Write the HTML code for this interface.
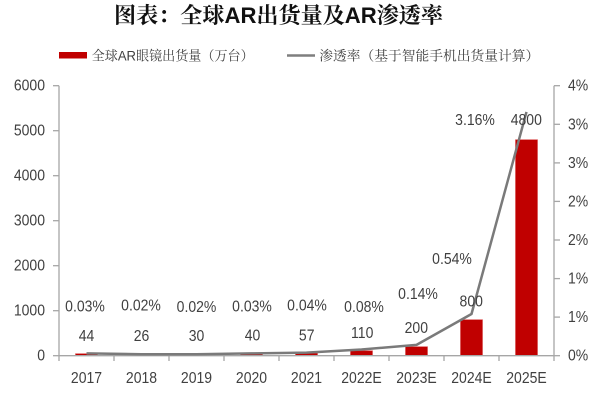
<!DOCTYPE html>
<html>
<head>
<meta charset="utf-8">
<style>
  html,body{margin:0;padding:0;background:#fff;}
  svg{display:block;}
  .t{font-family:"Liberation Sans","Noto Sans CJK SC",sans-serif;font-size:14px;fill:#404040;}
</style>
</head>
<body>
<svg width="600" height="400" viewBox="0 0 600 400" xmlns="http://www.w3.org/2000/svg">
  <rect width="600" height="400" fill="#fff"/>
  <!-- Title -->
  <text x="114" y="23" font-family="'Liberation Sans','Noto Serif CJK SC',serif" font-weight="700" font-size="22" fill="#111" textLength="329" lengthAdjust="spacingAndGlyphs">图表：全球AR出货量及AR渗透率</text>

  <!-- Legend -->
  <rect x="59" y="52" width="28" height="6.5" fill="#C00000"/>
  <text x="91.7" y="60.5" font-family="'Liberation Sans','Noto Serif CJK SC',serif" font-size="13.5" fill="#404040" textLength="162" lengthAdjust="spacingAndGlyphs">全球AR眼镜出货量（万台）</text>
  <line x1="287" y1="55.5" x2="315" y2="55.5" stroke="#7F7F7F" stroke-width="2.5"/>
  <text x="319.3" y="60.5" font-family="'Liberation Sans','Noto Serif CJK SC',serif" font-size="13.5" fill="#404040" textLength="220" lengthAdjust="spacingAndGlyphs">渗透率（基于智能手机出货量计算）</text>

  <!-- Bars -->
  <g fill="#C00000" stroke="#D84A4A" stroke-width="0.6">
    <rect x="75.5" y="353.7" width="22" height="2"/>
    <rect x="130.5" y="354.5" width="22" height="1.2"/>
    <rect x="185.5" y="354.35" width="22" height="1.35"/>
    <rect x="240.5" y="353.9" width="22" height="1.8"/>
    <rect x="295.5" y="353.1" width="22" height="2.6"/>
    <rect x="350.5" y="350.75" width="22" height="4.95"/>
    <rect x="405.5" y="346.7" width="22" height="9"/>
    <rect x="460.5" y="319.7" width="22" height="36"/>
    <rect x="515.5" y="139.7" width="22" height="216"/>
  </g>

  <!-- Axes -->
  <g stroke="#A6A6A6" stroke-width="1.3" fill="none">
    <line x1="59" y1="85.7" x2="59" y2="361"/>
    <line x1="554" y1="85.7" x2="554" y2="361"/>
    <line x1="59" y1="355.7" x2="554" y2="355.7"/>
    <line x1="53" y1="85.7" x2="59" y2="85.7"/>
    <line x1="53" y1="130.7" x2="59" y2="130.7"/>
    <line x1="53" y1="175.7" x2="59" y2="175.7"/>
    <line x1="53" y1="220.7" x2="59" y2="220.7"/>
    <line x1="53" y1="265.7" x2="59" y2="265.7"/>
    <line x1="53" y1="310.7" x2="59" y2="310.7"/>
    <line x1="53" y1="355.7" x2="59" y2="355.7"/>
    <line x1="554" y1="85.7" x2="560" y2="85.7"/>
    <line x1="554" y1="124.3" x2="560" y2="124.3"/>
    <line x1="554" y1="162.9" x2="560" y2="162.9"/>
    <line x1="554" y1="201.4" x2="560" y2="201.4"/>
    <line x1="554" y1="240" x2="560" y2="240"/>
    <line x1="554" y1="278.6" x2="560" y2="278.6"/>
    <line x1="554" y1="317.1" x2="560" y2="317.1"/>
    <line x1="554" y1="355.7" x2="560" y2="355.7"/>
    <line x1="114" y1="355.7" x2="114" y2="361"/>
    <line x1="169" y1="355.7" x2="169" y2="361"/>
    <line x1="224" y1="355.7" x2="224" y2="361"/>
    <line x1="279" y1="355.7" x2="279" y2="361"/>
    <line x1="334" y1="355.7" x2="334" y2="361"/>
    <line x1="389" y1="355.7" x2="389" y2="361"/>
    <line x1="444" y1="355.7" x2="444" y2="361"/>
    <line x1="499" y1="355.7" x2="499" y2="361"/>
  </g>

  <!-- Line series -->
  <polyline points="86.5,353.4 141.5,354.2 196.5,354.2 251.5,353.4 306.5,352.6 361.5,349.5 416.5,344.9 471.5,314.0 526.5,111.9" fill="none" stroke="#7A7A7A" stroke-width="2.5" stroke-linejoin="round"/>

  <!-- Left axis labels -->
  <g class="t" text-anchor="end">
    <text transform="translate(45,90.7) scale(1,1.12)">6000</text>
    <text transform="translate(45,135.7) scale(1,1.12)">5000</text>
    <text transform="translate(45,180.7) scale(1,1.12)">4000</text>
    <text transform="translate(45,225.7) scale(1,1.12)">3000</text>
    <text transform="translate(45,270.7) scale(1,1.12)">2000</text>
    <text transform="translate(45,315.7) scale(1,1.12)">1000</text>
    <text transform="translate(45,360.7) scale(1,1.12)">0</text>
  </g>

  <!-- Right axis labels -->
  <g class="t">
    <text transform="translate(568,90.7) scale(1,1.12)">4%</text>
    <text transform="translate(568,129.3) scale(1,1.12)">3%</text>
    <text transform="translate(568,167.9) scale(1,1.12)">3%</text>
    <text transform="translate(568,206.4) scale(1,1.12)">2%</text>
    <text transform="translate(568,245) scale(1,1.12)">2%</text>
    <text transform="translate(568,283.6) scale(1,1.12)">1%</text>
    <text transform="translate(568,322.1) scale(1,1.12)">1%</text>
    <text transform="translate(568,360.7) scale(1,1.12)">0%</text>
  </g>

  <!-- X labels -->
  <g class="t" text-anchor="middle">
    <text transform="translate(86.5,383) scale(1,1.12)">2017</text>
    <text transform="translate(141.5,383) scale(1,1.12)">2018</text>
    <text transform="translate(196.5,383) scale(1,1.12)">2019</text>
    <text transform="translate(251.5,383) scale(1,1.12)">2020</text>
    <text transform="translate(306.5,383) scale(1,1.12)">2021</text>
    <text transform="translate(361.5,383) scale(1,1.12)">2022E</text>
    <text transform="translate(416.5,383) scale(1,1.12)">2023E</text>
    <text transform="translate(471.5,383) scale(1,1.12)">2024E</text>
    <text transform="translate(526.5,383) scale(1,1.12)">2025E</text>
  </g>

  <!-- Percentage data labels -->
  <g class="t" text-anchor="middle">
    <text transform="translate(85,311.5) scale(1,1.12)">0.03%</text>
    <text transform="translate(141,310.5) scale(1,1.12)">0.02%</text>
    <text transform="translate(196.5,312.2) scale(1,1.12)">0.02%</text>
    <text transform="translate(252,311.5) scale(1,1.12)">0.03%</text>
    <text transform="translate(307,310.5) scale(1,1.12)">0.04%</text>
    <text transform="translate(364,312.2) scale(1,1.12)">0.08%</text>
    <text transform="translate(418,299) scale(1,1.12)">0.14%</text>
    <text transform="translate(452,263.8) scale(1,1.12)">0.54%</text>
    <text transform="translate(475,124.8) scale(1,1.12)">3.16%</text>
  </g>

  <!-- Value data labels -->
  <g class="t" text-anchor="middle">
    <text transform="translate(86.5,341.2) scale(1,1.12)">44</text>
    <text transform="translate(141.5,341.2) scale(1,1.12)">26</text>
    <text transform="translate(196.5,341.2) scale(1,1.12)">30</text>
    <text transform="translate(252.5,340.5) scale(1,1.12)">40</text>
    <text transform="translate(306.7,340.5) scale(1,1.12)">57</text>
    <text transform="translate(362.2,337.8) scale(1,1.12)">110</text>
    <text transform="translate(416.3,333.2) scale(1,1.12)">200</text>
    <text transform="translate(471.2,306.5) scale(1,1.12)">800</text>
    <text transform="translate(526.3,124.8) scale(1,1.12)">4800</text>
  </g>
</svg>
</body>
</html>
